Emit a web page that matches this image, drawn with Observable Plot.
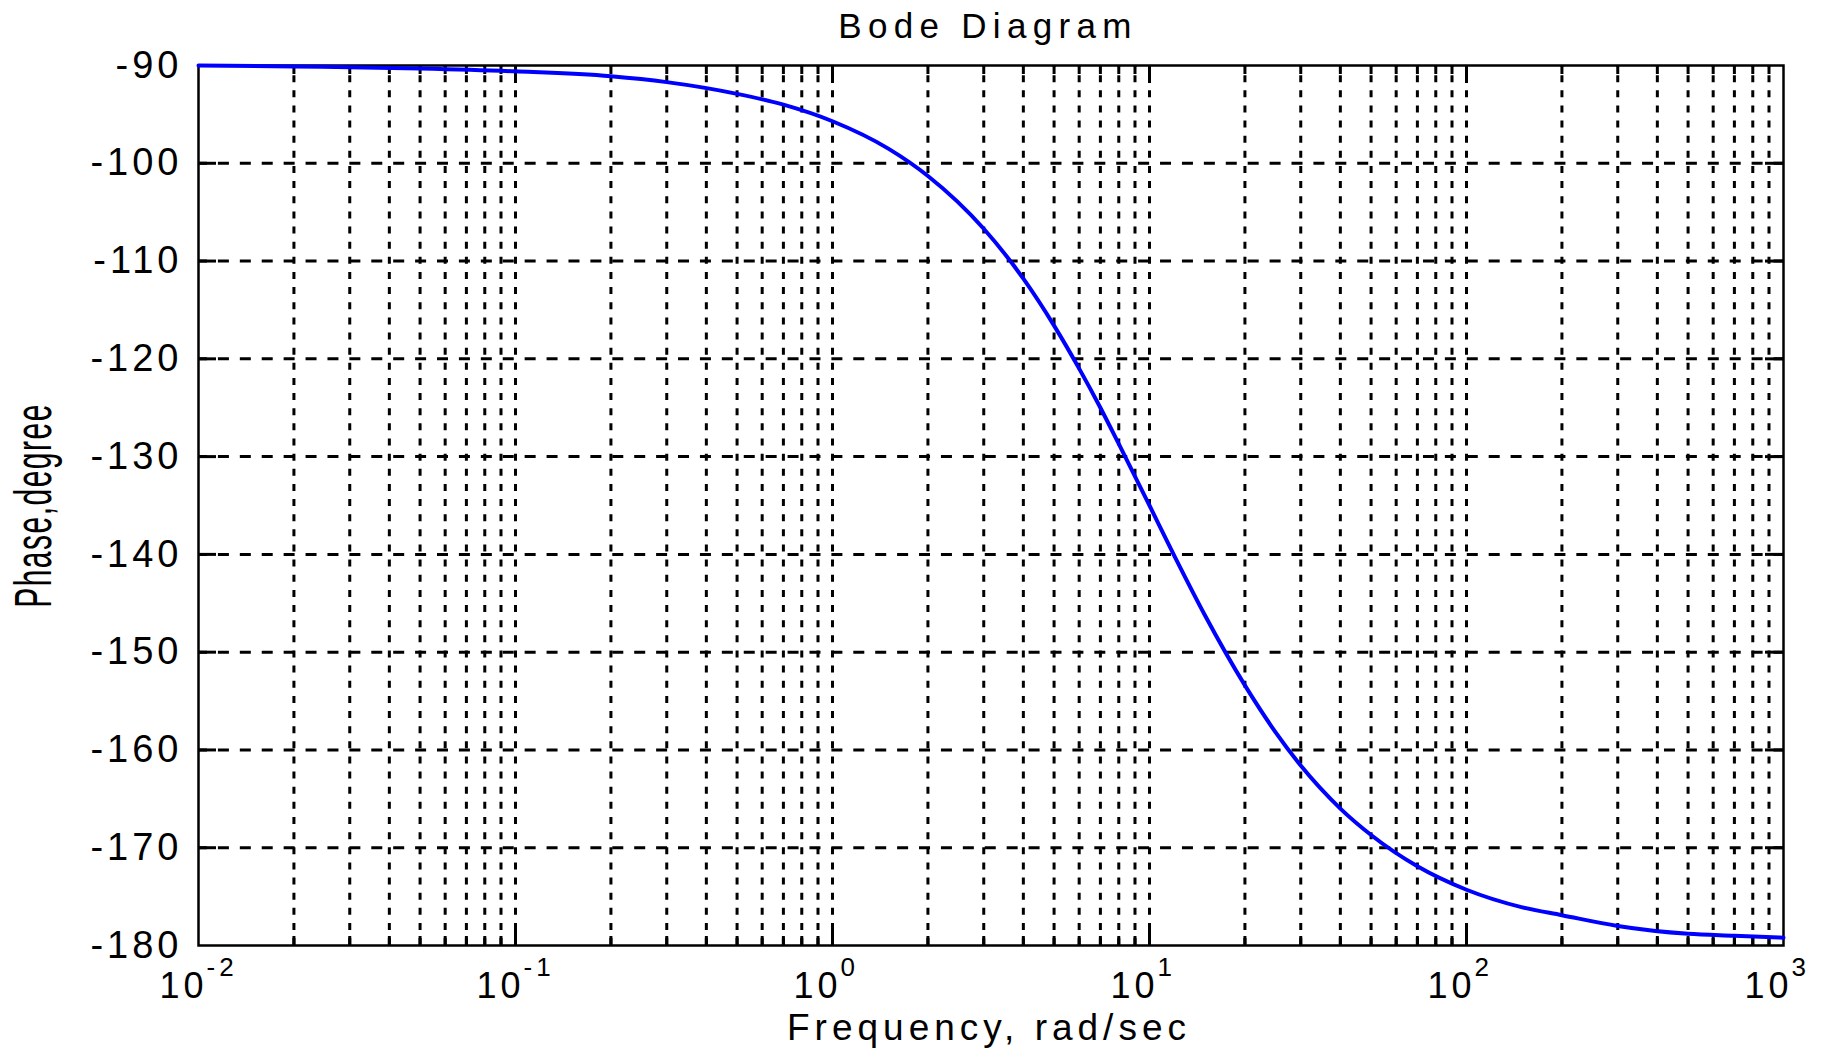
<!DOCTYPE html>
<html><head><meta charset="utf-8">
<script src="https://cdn.jsdelivr.net/npm/d3@7"></script>
<script src="https://cdn.jsdelivr.net/npm/@observablehq/plot@0.6"></script>
<style>
html,body{margin:0;padding:0;background:#fff;overflow:hidden;}
#title{height:52px;box-sizing:border-box;padding-top:6px;padding-left:147px;text-align:center;font-family:'Liberation Sans',Arial,sans-serif;font-size:35px;letter-spacing:6.3px;color:#000;white-space:nowrap;}
</style></head><body>
<div id="title">Bode Diagram</div>
<div id="chart"></div>
<script>
// values
const frequency = [0.01, 0.02, 0.05, 0.1, 0.2, 0.3, 0.5, 0.7, 1, 1.5, 2, 3, 4, 5, 6, 7, 8, 10, 12, 15, 20, 25, 30, 40, 50, 70, 100, 150, 200, 300, 500, 700, 1000];
const phaseDeg = [-90.0, -90.1, -90.3, -90.6, -91.1, -91.7, -92.9, -94.0, -95.7, -98.5, -101.3, -106.7, -111.8, -116.6, -121.0, -125.0, -128.7, -135.0, -140.2, -146.3, -153.4, -158.2, -161.6, -166.0, -168.7, -171.9, -174.3, -176.1, -176.9, -178.0, -178.8, -179.0, -179.2];
const yTickValues = [-180, -170, -160, -150, -140, -130, -120, -110, -100, -90];
const xDecades = [0.01, 0.1, 1, 10, 100, 1000];
const xTickBase = ["10", "10", "10", "10", "10", "10"];
const xTickExponent = ["-2", "-1", "0", "1", "2", "3"];
const minorMultipliers = [2, 3, 4, 5, 6, 7, 8, 9];
const xLabel = "Frequency, rad/sec";
const yLabel = "Phase,degree";

const curve = frequency.map((f, i) => ({f, p: phaseDeg[i]}));
const minorX = xDecades.slice(0, -1).flatMap(d => minorMultipliers.map(m => d * m));
const innerDecades = xDecades.slice(1, -1);
const gridX = [...minorX, ...innerDecades];
const gridY = yTickValues.slice(1, -1);
const xLabels = xDecades.map((d, i) => ({x: d, base: xTickBase[i], exp: xTickExponent[i]}));

const W = 1829, H = 998, ML = 198, MR = 46, MT = 13, MB = 105;
const FW = W - ML - MR, FH = H - MT - MB;

const chart = Plot.plot({
  width: W, height: H,
  marginLeft: ML, marginRight: MR, marginTop: MT, marginBottom: MB,
  style: "font-family: 'Liberation Sans', Arial, sans-serif; letter-spacing: 4px; overflow: visible; background: white; color: black;",
  x: {type: "log", domain: [0.01, 1000], axis: null},
  y: {domain: [-180, -90], axis: null},
  marks: [
    Plot.ruleX(gridX, {x: d => d, stroke: "black", strokeWidth: 3, strokeDasharray: "7,8.14", strokeDashoffset: 5}),
    Plot.ruleY(gridY, {y: d => d, stroke: "black", strokeWidth: 3, strokeDasharray: "11,10.91", strokeDashoffset: 2}),
    // inside ticks
    Plot.tickX(innerDecades, {x: d => d, insetTop: FH - 18, stroke: "black", strokeWidth: 3}),
    Plot.tickX(innerDecades, {x: d => d, insetBottom: FH - 18, stroke: "black", strokeWidth: 3}),
    Plot.tickX(minorX, {x: d => d, insetTop: FH - 9, stroke: "black", strokeWidth: 3}),
    Plot.tickX(minorX, {x: d => d, insetBottom: FH - 9, stroke: "black", strokeWidth: 3}),
    Plot.tickY(gridY, {y: d => d, insetRight: FW - 18, stroke: "black", strokeWidth: 3}),
    Plot.tickY(gridY, {y: d => d, insetLeft: FW - 18, stroke: "black", strokeWidth: 3}),
    Plot.frame({stroke: "black", strokeWidth: 2.5}),
    Plot.line(curve, {x: "f", y: "p", stroke: "#0000ff", strokeWidth: 4, curve: "monotone-x"}),
    // tick labels
    Plot.text(yTickValues, {y: d => d, text: d => String(d), frameAnchor: "left", textAnchor: "end", lineAnchor: "middle", dx: -16, fontSize: 38, fill: "black"}),
    Plot.text(xLabels, {x: "x", text: "base", frameAnchor: "bottom", textAnchor: "end", lineAnchor: "bottom", dx: 9, dy: 52, fontSize: 36, fill: "black"}),
    Plot.text(xLabels, {x: "x", text: "exp", frameAnchor: "bottom", textAnchor: "start", lineAnchor: "bottom", dx: 8, dy: 30, fontSize: 26, fill: "black"}),
    Plot.text([xLabel], {text: d => d, frameAnchor: "bottom", textAnchor: "middle", lineAnchor: "bottom", dx: -2, dy: 94, fontSize: 37, fill: "black", style: "letter-spacing:5px"}),
    Plot.text([yLabel], {text: d => d, frameAnchor: "left", rotate: -90, textAnchor: "middle", lineAnchor: "bottom", dx: -148, fontSize: 30, fill: "black"})
  ]
});
document.getElementById("chart").appendChild(chart);

// per-label spacing and the stretched rotated y label, like the reference's bitmap text
d3.select(chart).selectAll("text").each(function() {
  if (this.textContent === xLabel) this.style.letterSpacing = "5px";
  if (this.textContent === yLabel) {
    const t = this.getAttribute("transform") || "";
    this.setAttribute("transform", t + " scale(1,1.72)");
    this.style.letterSpacing = "1.5px";
  }
});
</script>
</body></html>
